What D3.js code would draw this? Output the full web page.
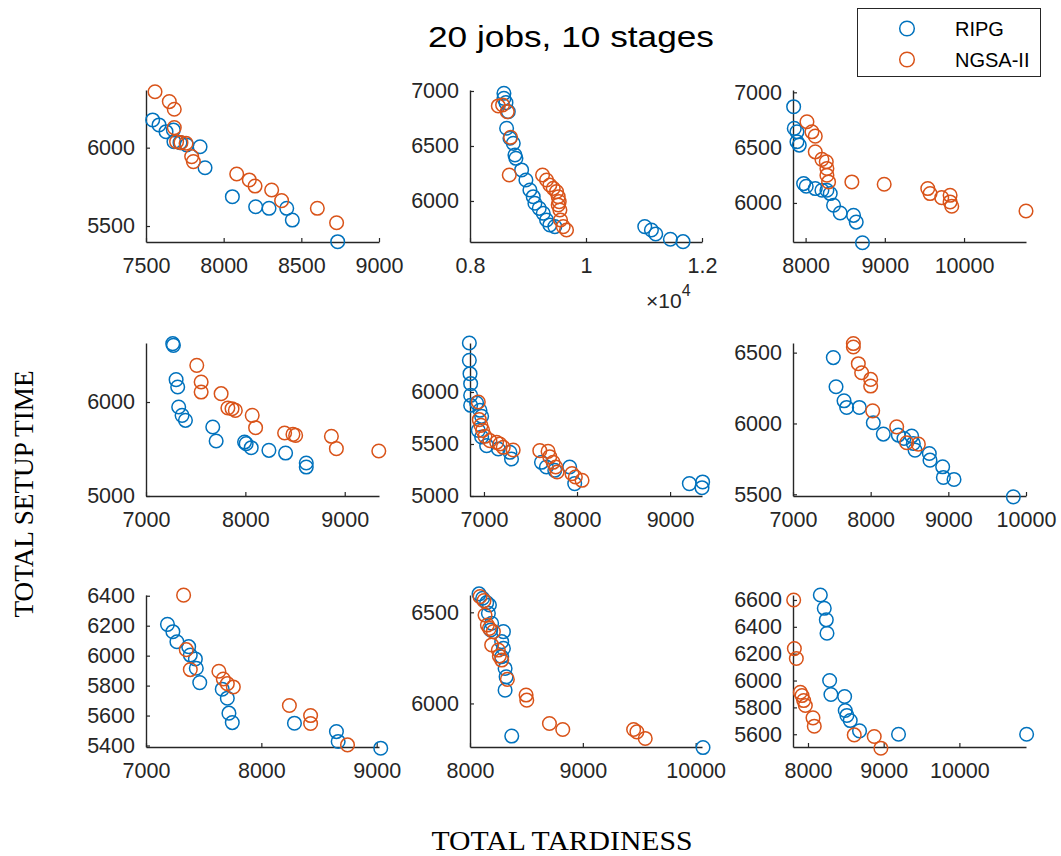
<!DOCTYPE html>
<html>
<head>
<meta charset="utf-8">
<script src="https://cdn.jsdelivr.net/npm/d3@7"></script>
<style>
  html, body { margin: 0; padding: 0; background: #ffffff; }
  svg { display: block; }
</style>
</head>
<body>
<svg id="chart" width="1061" height="856"></svg>
<script>
// ---- data: [total tardiness, total setup time] per front point ----
const ripgP1 = [[7543,6177],[7584,6145],[7629,6102],[7676,6113],[7680,6038],[7719,6032],[7762,6017],[7848,6006],[7880,5872],[8056,5687],[8206,5623],[8292,5613],[8406,5613],[8442,5538],[8734,5400]];
const ngsaP1 = [[7558,6357],[7650,6294],[7682,6245],[7682,6128],[7697,6038],[7725,6032],[7758,6028],[7794,5943],[7805,5911],[8084,5832],[8165,5794],[8202,5755],[8309,5730],[8373,5662],[8603,5613],[8727,5521]];

const ripgP2 = [[8585,6979],[8585,6933],[8620,6894],[8660,6812],[8631,6661],[8689,6570],[8746,6524],[8775,6418],[8792,6388],[8890,6282],[8964,6191],[9033,6100],[9090,6039],[9119,5979],[9194,5933],[9263,5888],[9320,5827],[9377,5782],[9463,5767],[11013,5767],[11128,5736],[11202,5700],[11455,5652],[11673,5630]];
const ngsaP2 = [[8488,6864],[8562,6873],[8643,6812],[8700,6579],[8677,6236],[9251,6236],[9320,6191],[9377,6145],[9435,6115],[9492,6085],[9521,6039],[9538,5994],[9521,5964],[9550,5918],[9561,5827],[9607,5767],[9664,5736]];

const ripgP3 = [[7849,6870],[7857,6674],[7891,6643],[7891,6553],[7920,6523],[7975,6175],[8008,6151],[8122,6130],[8206,6115],[8269,6115],[8311,6085],[8353,5979],[8437,5909],[8605,5888],[8639,5827],[8718,5640]];
const ngsaP3 = [[8017,6734],[8080,6643],[8122,6604],[8122,6462],[8206,6394],[8261,6372],[8269,6312],[8269,6251],[8290,6190],[8584,6190],[8992,6169],[9542,6130],[9571,6085],[9718,6048],[9824,6069],[9824,6009],[9845,5970],[10782,5927]];

const ripgP4 = [[7269,6621],[7276,6603],[7303,6238],[7319,6160],[7329,5947],[7363,5858],[7397,5805],[7672,5734],[7706,5585],[7992,5574],[8008,5557],[8059,5514],[8237,5486],[8405,5457],[8613,5351],[8613,5308]];
const ngsaP4 = [[7511,6390],[7555,6213],[7555,6106],[7756,6089],[7824,5936],[7866,5929],[7899,5911],[8069,5858],[8103,5727],[8395,5670],[8479,5656],[8506,5645],[8866,5635],[8916,5504],[9343,5479]];

const ripgP5 = [[6843,6471],[6843,6304],[6850,6176],[6857,6080],[6857,5968],[6857,5872],[6921,5894],[6957,5824],[6975,5766],[6939,5631],[6975,5567],[7029,5484],[7154,5452],[7279,5420],[7296,5356],[7618,5324],[7671,5279],[7761,5247],[7921,5279],[7975,5119],[9207,5119],[9350,5135],[9343,5080]];
const ngsaP5 = [[6939,5904],[6950,5734],[6968,5679],[6986,5631],[7011,5574],[7064,5532],[7136,5516],[7171,5500],[7207,5468],[7314,5442],[7600,5436],[7689,5429],[7707,5378],[7743,5324],[7771,5279],[7786,5231],[7946,5215],[7982,5183],[8054,5151]];

const ripgP6 = [[7519,6465],[7554,6259],[7657,6160],[7691,6113],[7854,6113],[8034,6005],[8163,5925],[8356,5918],[8429,5894],[8528,5911],[8549,5859],[8571,5812],[8755,5788],[8764,5741],[8927,5694],[8936,5619],[9073,5605],[9837,5482]];
const ngsaP6 = [[7777,6564],[7777,6540],[7841,6422],[7884,6358],[8000,6311],[8000,6264],[8026,6089],[8335,5976],[8464,5864],[8614,5854]];

const ripgP7 = [[7186,6209],[7233,6160],[7268,6093],[7370,6060],[7384,6004],[7428,5978],[7436,5916],[7466,5820],[7661,5776],[7705,5716],[7719,5616],[7748,5553],[8287,5549],[8651,5493],[8666,5427],[9035,5382]];
const ngsaP7 = [[7326,6404],[7349,6040],[7384,5907],[7632,5896],[7670,5844],[7705,5813],[7757,5791],[8243,5667],[8427,5600],[8427,5547],[8747,5404]];

const ripgP8 = [[8080,6601],[8112,6577],[8148,6553],[8172,6540],[8163,6495],[8192,6440],[8183,6403],[8296,6394],[8281,6339],[8296,6302],[8281,6256],[8311,6192],[8320,6146],[8311,6073],[8370,5821],[10065,5758]];
const ngsaP8 = [[8089,6586],[8124,6564],[8133,6485],[8154,6430],[8172,6412],[8207,6394],[8192,6321],[8251,6293],[8260,6260],[8281,6238],[8331,6132],[8497,6046],[8503,6018],[8704,5890],[8822,5857],[9450,5857],[9479,5844],[9553,5808]];

const ripgP9 = [[8163,6637],[8215,6538],[8242,6452],[8251,6352],[8286,6000],[8303,5896],[8484,5881],[8492,5777],[8514,5740],[8558,5702],[8681,5625],[9196,5600],[10888,5600]];
const ngsaP9 = [[7811,6600],[7820,6238],[7846,6164],[7899,5913],[7921,5888],[7943,5851],[7965,5814],[8066,5722],[8083,5660],[8611,5595],[8875,5583],[8963,5496]];

// ---- tick values and labels ----
const xTicksP1 = [7500, 8000, 8500, 9000];
const xTicksP2 = [8000, 10000, 12000];
const xTickLabelsP2 = ["0.8", "1", "1.2"];
const xTicks8to10 = [8000, 9000, 10000];
const xTicks7to9 = [7000, 8000, 9000];
const xTicks7to10 = [7000, 8000, 9000, 10000];
const yTicksP1 = [5500, 6000];
const yTicks6to7 = [6000, 6500, 7000];
const yTicksP4 = [5000, 6000];
const yTicksP5 = [5000, 5500, 6000];
const yTicksP6 = [5500, 6000, 6500];
const yTicksP7 = [5400, 5600, 5800, 6000, 6200, 6400];
const yTicksP8 = [6000, 6500];
const yTicksP9 = [5600, 5800, 6000, 6200, 6400, 6600];

const seriesNames = ["RIPG", "NGSA-II"];
const titleText = "20 jobs, 10 stages";
const xLabelText = "TOTAL TARDINESS";
const yLabelText = "TOTAL SETUP TIME";

// ---- panel configuration (axis limits per subplot) ----
const panels = [
  { ripg: ripgP1, ngsa: ngsaP1, xd: [7500, 9000],  yd: [5398, 6368], xt: xTicksP1,    yt: yTicksP1 },
  { ripg: ripgP2, ngsa: ngsaP2, xd: [8000, 12000], yd: [5627, 7009], xt: xTicksP2,    yt: yTicks6to7, xl: xTickLabelsP2 },
  { ripg: ripgP3, ngsa: ngsaP3, xd: [7841, 10782], yd: [5647, 7021], xt: xTicks8to10, yt: yTicks6to7 },
  { ripg: ripgP4, ngsa: ngsaP4, xd: [7000, 9345],  yd: [5000, 6628], xt: xTicks7to9,  yt: yTicksP4 },
  { ripg: ripgP5, ngsa: ngsaP5, xd: [6850, 9343],  yd: [5000, 6471], xt: xTicks7to9,  yt: yTicksP5 },
  { ripg: ripgP6, ngsa: ngsaP6, xd: [7000, 10000], yd: [5488, 6568], xt: xTicks7to10, yt: yTicksP6 },
  { ripg: ripgP7, ngsa: ngsaP7, xd: [7000, 9020],  yd: [5390, 6405], xt: xTicks7to9,  yt: yTicksP7 },
  { ripg: ripgP8, ngsa: ngsaP8, xd: [8000, 10056], yd: [5761, 6595], xt: xTicks8to10, yt: yTicksP8 },
  { ripg: ripgP9, ngsa: ngsaP9, xd: [7802, 10880], yd: [5505, 6637], xt: xTicks8to10, yt: yTicksP9 }
];

// ---- layout ----
const colX = [[146, 379], [470, 702], [793, 1026]];
const rowY = [[90, 242], [343, 496], [595, 747]];
const colors = ["#0072BD", "#D95319"];
const axisColor = "#262626";
const fontSans = "'Liberation Sans', Arial, Helvetica, sans-serif";
const fontSerif = "'Liberation Serif', 'Times New Roman', serif";
const markerR = 6.8;

const svg = d3.select("#chart");

panels.forEach((p, i) => {
  const c = i % 3, r = Math.floor(i / 3);
  const x = d3.scaleLinear().domain(p.xd).range(colX[c]);
  const y = d3.scaleLinear().domain(p.yd).range([rowY[r][1], rowY[r][0]]);
  const g = svg.append("g");

  const xAxis = d3.axisBottom(x).tickValues(p.xt).tickSizeInner(-4).tickSizeOuter(0).tickPadding(16);
  if (p.xl) xAxis.tickFormat((d, k) => p.xl[k]);
  else xAxis.tickFormat(d3.format("d"));
  const yAxis = d3.axisLeft(y).tickValues(p.yt).tickSizeInner(-4).tickSizeOuter(0).tickPadding(11).tickFormat(d3.format("d"));

  const gx = g.append("g").attr("transform", `translate(0,${rowY[r][1]})`).call(xAxis);
  const gy = g.append("g").attr("transform", `translate(${colX[c][0]},0)`).call(yAxis);
  [gx, gy].forEach(a => {
    a.select(".domain").attr("stroke", axisColor).attr("stroke-width", 1.4);
    a.selectAll(".tick line").attr("stroke", axisColor).attr("stroke-width", 1.2);
    a.selectAll(".tick text").attr("fill", axisColor).style("font-family", fontSans).style("font-size", "21.5px");
  });

  [p.ripg, p.ngsa].forEach((pts, s) => {
    g.append("g").selectAll("circle").data(pts).join("circle")
      .attr("cx", d => x(d[0]))
      .attr("cy", d => y(d[1]))
      .attr("r", markerR)
      .attr("fill", "none")
      .attr("stroke", colors[s])
      .attr("stroke-width", 1.5);
  });

  // exponent label for the scaled tardiness axis
  if (p.xl) {
    const ex = svg.append("text")
      .attr("x", 646).attr("y", 308)
      .attr("fill", axisColor)
      .style("font-family", fontSans).style("font-size", "21px");
    ex.append("tspan").text("\u00d710");
    ex.append("tspan").attr("dy", -12).style("font-size", "16px").text("4");
  }
});

// title
svg.append("text")
  .attr("x", 428).attr("y", 47)
  .attr("textLength", 286).attr("lengthAdjust", "spacingAndGlyphs")
  .attr("fill", "#000")
  .style("font-family", fontSans).style("font-size", "29px")
  .text(titleText);

// axis titles
svg.append("text")
  .attr("x", 562).attr("y", 850)
  .attr("text-anchor", "middle")
  .attr("textLength", 261).attr("lengthAdjust", "spacingAndGlyphs")
  .attr("fill", "#000")
  .style("font-family", fontSerif).style("font-size", "27px")
  .text(xLabelText);

svg.append("text")
  .attr("transform", "translate(33,494) rotate(-90)")
  .attr("text-anchor", "middle")
  .attr("textLength", 247).attr("lengthAdjust", "spacingAndGlyphs")
  .attr("fill", "#000")
  .style("font-family", fontSerif).style("font-size", "28px")
  .text(yLabelText);

// legend
const lg = svg.append("g");
lg.append("rect")
  .attr("x", 857.5).attr("y", 8.5).attr("width", 183).attr("height", 68)
  .attr("fill", "#fff").attr("stroke", axisColor).attr("stroke-width", 1);
seriesNames.forEach((name, s) => {
  const cy = 28.5 + s * 31;
  lg.append("circle").attr("cx", 907).attr("cy", cy).attr("r", 7.3)
    .attr("fill", "none").attr("stroke", colors[s]).attr("stroke-width", 1.5);
  lg.append("text").attr("x", 955).attr("y", cy + 7)
    .attr("fill", "#000")
    .style("font-family", fontSans).style("font-size", "20px")
    .text(name);
});
</script>
</body>
</html>
